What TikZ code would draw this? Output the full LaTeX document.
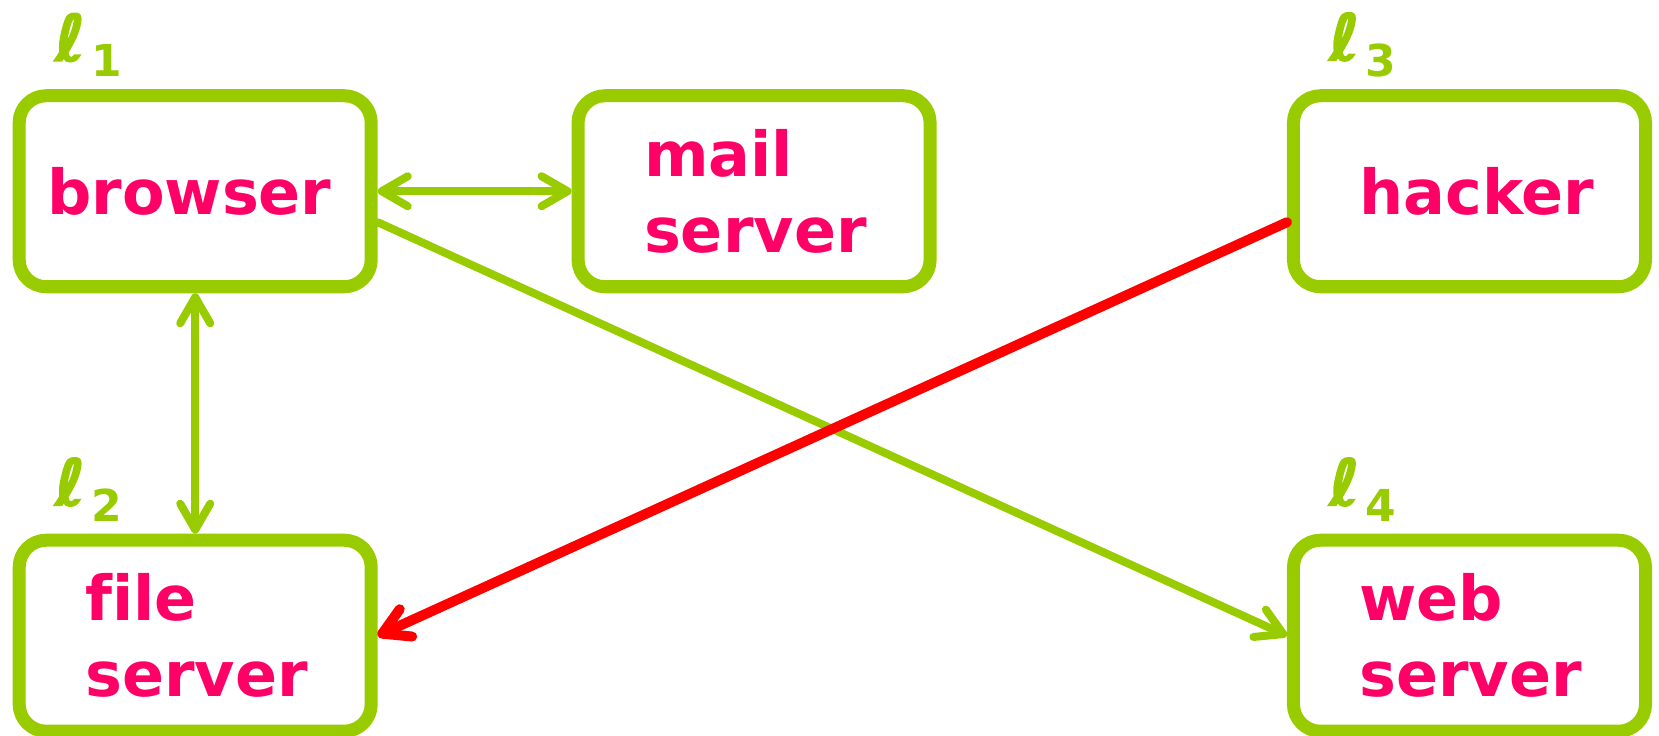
\documentclass[tikz,border=0pt]{standalone}
\usepackage{fontspec}
\setmainfont{DejaVu Sans}[Ligatures=NoCommon]
\newfontfamily\ellfont{DejaVu Sans Bold}[FakeBold=2.5]
\usepackage{tikz}
\usetikzlibrary{positioning, arrows.meta}

\definecolor{lgreen}{HTML}{99CC00}
\definecolor{nodepink}{HTML}{FF0066}
\definecolor{attackred}{HTML}{FF0000}
\newcommand{\loc}[1]{{\mdseries\ellfont ℓ}\kern3pt\raisebox{-8pt}{\fontsize{22}{22}\selectfont #1}}

\begin{document}
\begin{tikzpicture}[
        host/.style={rectangle, rounded corners=13.5pt, draw=lgreen, line width=6.5pt, fill=white, minimum width=176pt, minimum height=95.5pt, text=nodepink, font=\fontsize{31}{38}\selectfont\bfseries, align=left, text width=#1},
        host/.default=110pt,
        tag/.style={text=lgreen, font=\fontsize{32}{32}\selectfont\bfseries, inner sep=0pt},
        link/.style={draw=lgreen, line width=4pt, line cap=round},
        attack/.style={draw=attackred, line width=5pt, line cap=round},
        >={Straight Barb[length=13pt, width=15pt, round]}
    ]
        \useasboundingbox (0,0) rectangle (29.15,-12.92);

        % --- HOSTS ---
        \node[host=148pt] (browser) at (3.43, -3.36) {browser};
        \node[host] (mail) at (13.25, -3.36) {mail\\server};
        \node[host] (hacker) at (25.82, -3.36) {hacker};
        \node[host] (file) at (3.43, -11.17) {file\\server};
        \node[host] (web) at (25.82, -11.17) {web\\server};

        % --- LOCATIONS ---
        \node[tag, above right=6pt and 21pt of browser.north west] (l1) {\loc{1}};
        \node[tag, above right=6pt and 21pt of file.north west] (l2) {\loc{2}};
        \node[tag, above right=6pt and 21pt of hacker.north west] (l3) {\loc{3}};
        \node[tag, above right=6pt and 21pt of web.north west] (l4) {\loc{4}};

        % --- CONNECTIONS ---
        \draw[link, <->] (browser) -- (mail);
        \draw[link, <->] (browser) -- (file);
        \draw[link, ->] ([yshift=-15.5pt]browser.east) -- (web.west);
        \draw[attack, ->] ([yshift=-15.5pt]hacker.west) -- (file.east);

    \end{tikzpicture}
\end{document}
